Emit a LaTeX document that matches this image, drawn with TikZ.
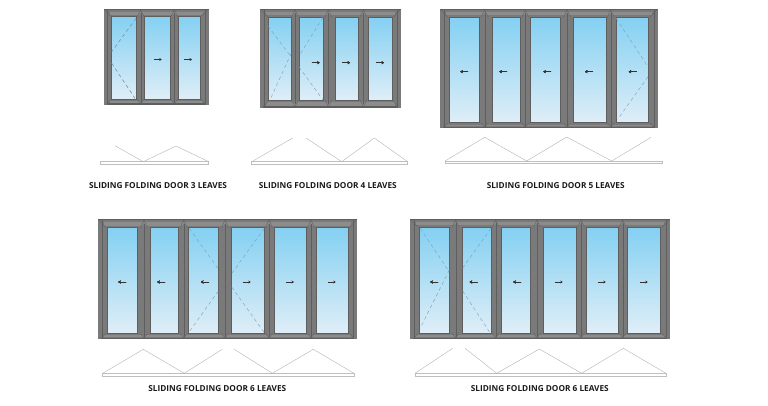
\documentclass[tikz,border=0pt]{standalone}
\usepackage{fontspec}
\setmainfont{Open Sans}
\usepackage{tikz}
\usetikzlibrary{arrows.meta}
\definecolor{framegray}{HTML}{7A7A7A}
\definecolor{framedark}{HTML}{5E5E5E}
\definecolor{framelight}{HTML}{8C8C8C}
\definecolor{glasstop}{HTML}{84D0F2}
\definecolor{glassbot}{HTML}{DFEEF7}
\definecolor{swingblue}{HTML}{7C9DB0}
\tikzset{
  glass/.style={top color=glasstop,bottom color=glassbot,draw=framedark,line width=0.5pt},
  swing/.style={draw=swingblue,dash pattern=on 3.5pt off 3pt,line width=0.4pt},
  plan/.style={draw=black!30,line width=0.4pt},
  track/.style={draw=black!25,fill=white,line width=0.5pt},
  slide/.style={-{Stealth[length=2.4pt,width=3pt]},line width=0.8pt,black!80},
  caption/.style={font=\bfseries\fontsize{8.25}{10}\selectfont,text=black!90,inner sep=0pt}
}
% frame: x0,y0,x1,y1, glass top, glass bottom
\newcommand{\doorframe}[6]{
  \fill[framegray] (#1,#2) rectangle (#3,#4);
  \fill[framelight] (#1+6,#2+3) rectangle (#3-6,#5-2);
  \fill[framedark] (#1,#2) rectangle (#3,#2+1);
  \fill[framedark] (#1+3,#4-1.5) rectangle (#3-3,#4);
  \fill[framelight] (#1+6,#6+2) rectangle (#3-6,#4-2);
  \draw[framedark,line width=0.3pt] (#1+4,#2+1) -- (#1+4,#4) (#3-4,#2+1) -- (#3-4,#4);
  \draw[framedark,line width=0.35pt] (#1+1,#2+1) -- (#1+8,#5);
  \draw[framedark,line width=0.35pt] (#3-1,#2+1) -- (#3-8,#5);
  \draw[framedark,line width=0.35pt] (#1+4,#4-1.5) -- (#1+8,#6);
  \draw[framedark,line width=0.35pt] (#3-4,#4-1.5) -- (#3-8,#6);
}
% joint post: x, y0, y1, glass top, glass bottom
\newcommand{\doorjoint}[5]{
  \fill[framegray] (#1-2.5,#4) -- (#1,#4-4) -- (#1+2.5,#4) -- (#1+2.5,#5) -- (#1,#5+4) -- (#1-2.5,#5) -- cycle;
  \draw[framedark,line width=0.35pt] (#1,#2+1) -- (#1-3.5,#4) (#1,#2+1) -- (#1+3.5,#4)
    (#1,#3-1) -- (#1-3.5,#5) (#1,#3-1) -- (#1+3.5,#5);
  \draw[framedark,line width=0.4pt] (#1,#4-4) -- (#1,#5+4);
}
\begin{document}
\begin{tikzpicture}[x=1pt,y=-1pt]
\useasboundingbox (0,0) rectangle (768,406);
% 3 leaves
\doorframe{103.5}{9}{208.7}{105}{16.7}{99}
\foreach \xa/\xb in {111.3/136,144.7/170,178.7/200.3}
  \shade[glass] (\xa,16.7) rectangle (\xb,99);
\foreach \xj in {140.7,174.3}
  \doorjoint{\xj}{9}{105}{16.7}{99}
\draw[swing] (136,18.3) -- (111.7,51.7) (111.7,63.3) -- (135,98.3);
\foreach \xa in {154,184.3}
  \draw[slide] (\xa,59.5) -- ++(7.7,0);
\draw[track] (100,161.7) rectangle (208.7,164.3);
\draw[plan] (115,145.7) -- (143.3,161.7) -- (176,146) -- (208.7,161.7);
\node[caption] (capa) at (158,186) {SLIDING FOLDING DOOR 3 LEAVES};
% 4 leaves
\doorframe{260.3}{9}{401}{107.7}{17.3}{100}
\foreach \xa/\xb in {268/291.3,299/323,335/358.3,368.3/392.3}
  \shade[glass] (\xa,17.3) rectangle (\xb,100);
\foreach \xa/\xb/\xc/\xd in {268/26/291.3/57,299/67/323/100,291.3/53/270/100,323/17.3/299/56}
  \draw[swing] (\xa,\xb) -- (\xc,\xd);
\foreach \xj in {295,328.3,363.3}
  \doorjoint{\xj}{9}{107.7}{17.3}{100}
\foreach \xa in {311.7,342,376}
  \draw[slide] (\xa,62.7) -- ++(8,0);
\draw[track] (251.7,161.7) rectangle (407.7,164.3);
\draw[plan] (292.7,138) -- (251.7,161.7) (306,138) -- (341.7,161.7) -- (374.3,138) -- (407.7,161.7);
\node[caption] (capb) at (327.8,186) {SLIDING FOLDING DOOR 4 LEAVES};
% 5 leaves
\doorframe{440}{9}{657.7}{128.3}{17.3}{122.7}
\foreach \xa/\xb in {449.7/479.3,492/520.7,530.7/560,573.7/606.3,616/648}
  \shade[glass] (\xa,17.3) rectangle (\xb,122.7);
\draw[swing] (616,18.3) -- (648,66.7) (648,76.7) -- (617.7,119.3);
\foreach \xj in {484.7,525.3,567,610.7}
  \doorjoint{\xj}{9}{128.3}{17.3}{122.7}
\foreach \xa in {468.3,507.3,551.3,593,636.7}
  \draw[slide] (\xa,71.7) -- ++(-8,0);
\draw[track] (445,161) rectangle (662.7,163.7);
\draw[plan] (445,161) -- (484.7,137.3) -- (526.7,161) -- (566.7,137) -- (611.7,161) -- (651,137.3);
\node[caption] (capc) at (555.7,186) {SLIDING FOLDING DOOR 5 LEAVES};
% 6 leaves, split
\doorframe{98}{219}{357.3}{339}{227.7}{333.3}
\foreach \xa/\xb in {107.3/137.3,150.7/178.7,188.7/218.3,231.7/264.3,274/306.3,316/348.3}
  \shade[glass] (\xa,227.7) rectangle (\xb,333.3);
\foreach \xa/\xb/\xc/\xd in {189.3/228.3/218.3/269,231.7/287/264.3/332.7,264.3/228.3/231.7/273.5,218.3/291/189.3/331.7}
  \draw[swing] (\xa,\xb) -- (\xc,\xd);
\foreach \xj in {144,183.7,225,269,311}
  \doorjoint{\xj}{219}{339}{227.7}{333.3}
\foreach \xa in {126.3,165.3,209}
  \draw[slide] (\xa,282) -- ++(-8,0);
\foreach \xa in {242.7,286,327.7}
  \draw[slide] (\xa,282) -- ++(8,0);
\draw[track] (102.7,373.3) rectangle (354,376.3);
\draw[plan] (102.7,373.3) -- (143.3,349.3) -- (184.3,373.3) -- (222.3,349.3)
  (234.3,349.3) -- (272.3,373.3) -- (313.3,349.3) -- (354,373.3);
\node[caption] (capd) at (217.3,389) {SLIDING FOLDING DOOR 6 LEAVES};
% 6 leaves, two swing
\doorframe{410.3}{219}{669.7}{339}{227.3}{333}
\foreach \xa/\xb in {419.7/449.3,462.7/491,501/530.3,543.7/576.3,586/618.3,627.7/660}
  \shade[glass] (\xa,227.3) rectangle (\xb,333);
\foreach \xa/\xb/\xc/\xd in {420.3/228.3/449.3/272,462.7/291/490/332.7,449.3/270/420.7/327.3,491/228.3/462.7/268}
  \draw[swing] (\xa,\xb) -- (\xc,\xd);
\foreach \xj in {455.7,495.7,537,581,622.7}
  \doorjoint{\xj}{219}{339}{227.3}{333}
\foreach \xa in {438.3,477.7,521.3}
  \draw[slide] (\xa,282) -- ++(-8,0);
\foreach \xa in {554.7,597.7,639.7}
  \draw[slide] (\xa,282) -- ++(8,0);
\draw[track] (415,373.3) rectangle (666,376.3);
\draw[plan] (415,373.3) -- (452.7,348.3) (465,348.3) -- (496.7,373.3) -- (539.3,349) -- (581.7,373.3) -- (623.3,348.3) -- (666,373.3);
\node[caption] (cape) at (539.8,389) {SLIDING FOLDING DOOR 6 LEAVES};
\end{tikzpicture}
\end{document}
